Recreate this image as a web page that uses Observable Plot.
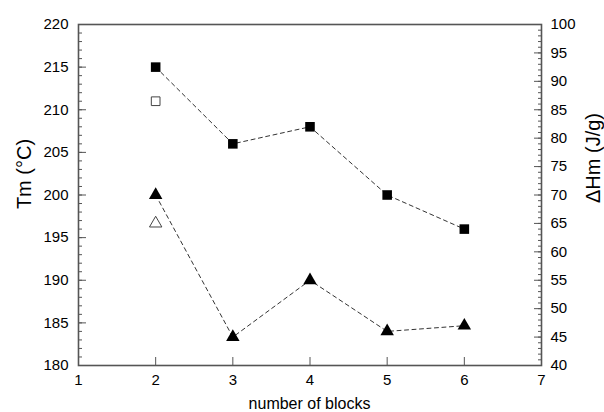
<!DOCTYPE html>
<html><head><meta charset="utf-8">
<script src="https://cdn.jsdelivr.net/npm/d3@7"></script>
<script src="https://cdn.jsdelivr.net/npm/@observablehq/plot@0.6"></script>
<style>
body{margin:0;background:#fff;}
#wrap{position:relative;width:604px;height:412px;background:#fff;overflow:hidden;font-family:'Liberation Sans', Arial, sans-serif;color:#000;}
#wrap svg{position:absolute;left:0;top:0;}
.ttl{position:absolute;white-space:nowrap;line-height:1;transform-origin:center center;}
</style></head><body><div id="wrap"></div>
<script>
// data
const blocks = [2, 3, 4, 5, 6];
const tmFilled = [215, 206, 208, 200, 196];   // Tm (°C), filled squares
const dhFilled = [70, 45, 55, 46, 47];        // ΔHm (J/g), filled triangles
const openBlocks = [2];
const tmOpen = [211];                          // open square
const dhOpen = [65];                           // open triangle
const xTicks = [1, 2, 3, 4, 5, 6, 7];
const tmTicks = [180, 185, 190, 195, 200, 205, 210, 215, 220];
const dhTicks = [40, 45, 50, 55, 60, 65, 70, 75, 80, 85, 90, 95, 100];
const tmMinor = d3.range(180, 221, 1);
const dhMinor = d3.range(40, 101, 1);
const titles = {left: "Tm (°C)", right: "ΔHm (J/g)", bottom: "number of blocks"};

const tmData = blocks.map((b, i) => ({b, v: tmFilled[i]}));
const dhData = blocks.map((b, i) => ({b, v: dhFilled[i]}));
const tmOpenData = openBlocks.map((b, i) => ({b, v: tmOpen[i]}));
const dhOpenData = openBlocks.map((b, i) => ({b, v: dhOpen[i]}));

const FONT = "'Liberation Sans', Arial, sans-serif";
const AX = "#555";
const common = {
  width: 604, height: 412,
  marginLeft: 78, marginRight: 63, marginTop: 24, marginBottom: 47,
  style: {background: "transparent", fontFamily: FONT, color: "#000", overflow: "visible"}
};

const p1 = Plot.plot({
  ...common,
  x: {domain: [1, 7]},
  y: {domain: [180, 220]},
  marks: [
    Plot.frame({stroke: AX, strokeWidth: 1.6}),
    Plot.axisY(tmMinor, {anchor: "left", tickSize: -4, text: null, stroke: AX, label: null}),
    Plot.axisY(tmTicks, {anchor: "left", tickSize: -8, text: null, stroke: AX, label: null}),
    Plot.axisY(tmTicks, {anchor: "left", tickSize: 0, tickPadding: 10, fontSize: 15, fill: "#000", label: null}),
    Plot.axisX(xTicks, {anchor: "bottom", tickSize: -8, text: null, stroke: AX, label: null}),
    Plot.axisX(xTicks, {anchor: "bottom", tickSize: 0, tickPadding: 9, fontSize: 15, fill: "#000", label: null}),
    Plot.line(tmData, {x: "b", y: "v", stroke: "#333", strokeWidth: 1, strokeDasharray: "4,3.5"}),
    Plot.dot(tmData, {x: "b", y: "v", symbol: "square", r: 5.4, fill: "#000", stroke: "none"}),
    Plot.dot(tmOpenData, {x: "b", y: "v", symbol: "square", r: 4.9, fill: "#fff", stroke: "#444", strokeWidth: 1})
  ]
});

const p2 = Plot.plot({
  ...common,
  x: {domain: [1, 7], axis: null},
  y: {domain: [40, 100]},
  marks: [
    Plot.axisY(dhMinor, {anchor: "right", tickSize: -4, text: null, stroke: AX, label: null}),
    Plot.axisY(dhTicks, {anchor: "right", tickSize: -8, text: null, stroke: AX, label: null}),
    Plot.axisY(dhTicks, {anchor: "right", tickSize: 0, tickPadding: 9, fontSize: 15, fill: "#000", label: null}),
    Plot.line(dhData, {x: "b", y: "v", stroke: "#333", strokeWidth: 1, strokeDasharray: "4,3.5"}),
    Plot.dot(dhData, {x: "b", y: "v", symbol: "triangle", r: 5, fill: "#000", stroke: "none"}),
    Plot.dot(dhOpenData, {x: "b", y: "v", symbol: "triangle", r: 4.6, fill: "#fff", stroke: "#444", strokeWidth: 1})
  ]
});

const wrap = document.getElementById("wrap");
wrap.appendChild(p1);
wrap.appendChild(p2);

function addTitle(text, cx, cy, size, rot) {
  const d = document.createElement("div");
  d.className = "ttl";
  d.textContent = text;
  d.style.fontSize = size + "px";
  d.style.left = cx + "px";
  d.style.top = cy + "px";
  d.style.transform = `translate(-50%,-50%) rotate(${rot}deg)`;
  wrap.appendChild(d);
}
addTitle(titles.left, 24, 174, 20, -90);
addTitle(titles.right, 593, 158, 20, -90);
addTitle(titles.bottom, 309.5, 404, 16, 0);
</script></body></html>
